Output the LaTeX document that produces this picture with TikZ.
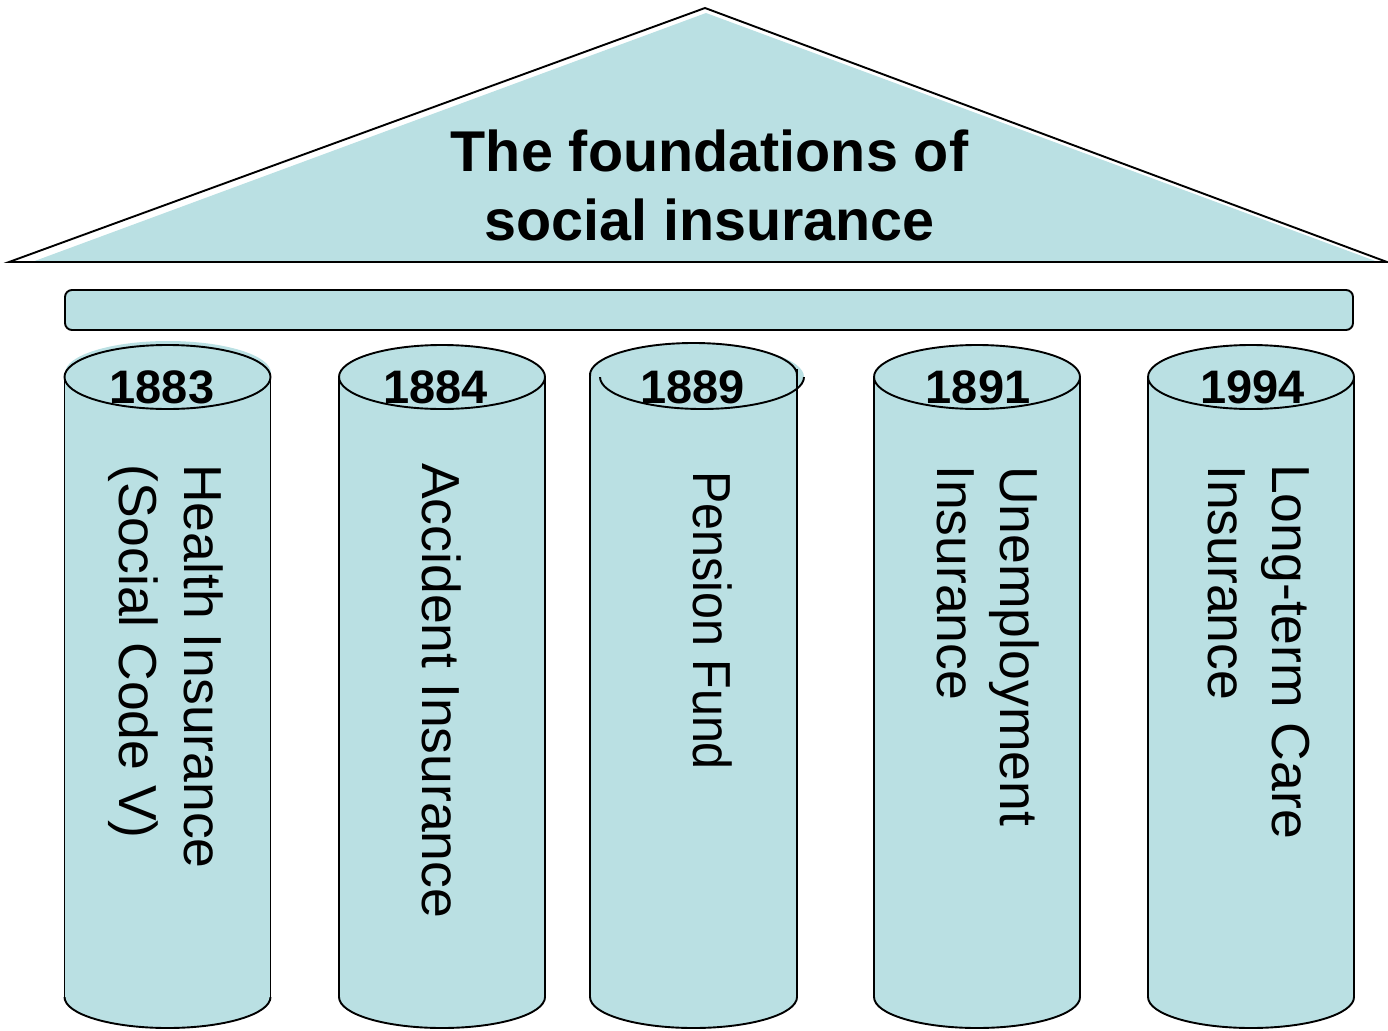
\documentclass[tikz,border=0pt]{standalone}
\usepackage{fontspec}
\usepackage{graphicx}
\setmainfont{Liberation Sans}
\definecolor{pillar}{RGB}{186,224,227}
\begin{document}
\begin{tikzpicture}[x=1pt,y=-1pt,
  outl/.style={draw=black,line width=1.9pt},
  lab/.style={font=\fontsize{53.5}{64}\selectfont, inner sep=0, anchor=base west, rotate=-90},
  yr/.style={font=\fontsize{47}{56}\selectfont\bfseries, inner sep=0, anchor=base},
  ttl/.style={font=\fontsize{57.5}{68}\selectfont\bfseries, inner sep=0, anchor=base}]
\useasboundingbox (0,0) rectangle (1388,1030);
% roof
\fill[pillar] (32,262) -- (706,13) -- (1378,262) -- cycle;
\draw[outl] (9,262) -- (705,8) -- (1387,262) -- cycle;
% beam
\draw[outl, fill=pillar, rounded corners=7pt] (65,290) rectangle (1353,330);
% standard columns
\fill[pillar] (168,373) ellipse[x radius=103, y radius=32];
\foreach \c in {167.5, 442, 977, 1251} {
  \fill[pillar] (\c-103,377) rectangle (\c+103,997);
  \fill[pillar] (\c,997) ellipse[x radius=103, y radius=31];
  \fill[pillar] (\c,377) ellipse[x radius=103, y radius=32];
  \draw[outl] (\c-103,377) -- (\c-103,997);
  \draw[outl] (\c+103,377) -- (\c+103,997);
  \draw[outl] (\c,377) ellipse[x radius=103, y radius=32];
  \begin{scope}
    \clip (\c-110,997) rectangle (\c+110,1035);
    \draw[outl] (\c,997) ellipse[x radius=103, y radius=31];
  \end{scope}
}
% column 3 (cap slightly shifted)
\fill[pillar] (590,375) rectangle (797,997);
\fill[pillar] (693.5,997) ellipse[x radius=103.5, y radius=31];
\fill[pillar] (693.5,375) ellipse[x radius=103.5, y radius=32];
\fill[pillar] (702,377) ellipse[x radius=102, y radius=32];
\draw[outl] (590,373) -- (590,997);
\draw[outl] (797,369) -- (797,997);
\begin{scope}
  \clip (580,330) rectangle (810,375);
  \draw[outl] (693.5,375) ellipse[x radius=103.5, y radius=32];
\end{scope}
\begin{scope}
  \clip (590,377) rectangle (815,420);
  \draw[outl] (702,377) ellipse[x radius=102, y radius=32];
\end{scope}
\begin{scope}
  \clip (580,997) rectangle (810,1035);
  \draw[outl] (693.5,997) ellipse[x radius=103.5, y radius=31];
\end{scope}
% title
\node[ttl] (t1) at (709.5,171) {The foundations of};
\node[ttl] (t2) at (709.5,240) {social insurance};
% years
\node[yr] (y1) at (162,403) {1883};
\node[yr] (y2) at (435.5,403) {1884};
\node[yr] (y3) at (692.5,403) {1889};
\node[yr] (y4) at (978,403) {1891};
\node[yr] (y5) at (1252.5,403) {1994};
% pillar labels
\node[lab] (h1) at (184,464) {Health Insurance};
\node[lab] (h2) at (119,464) {(Social Code V)};
\node[lab] (a1) at (422,463) {Accident Insurance};
\node[lab] (p1) at (693,471) {\scalebox{0.905}[1]{Pension Fund}};
\node[lab] (u1) at (1000,466) {Unemployment};
\node[lab] (u2) at (937,465) {Insurance};
\node[lab] (l1) at (1272,464) {Long-term Care};
\node[lab] (l2) at (1208,465) {Insurance};
\end{tikzpicture}
\end{document}
